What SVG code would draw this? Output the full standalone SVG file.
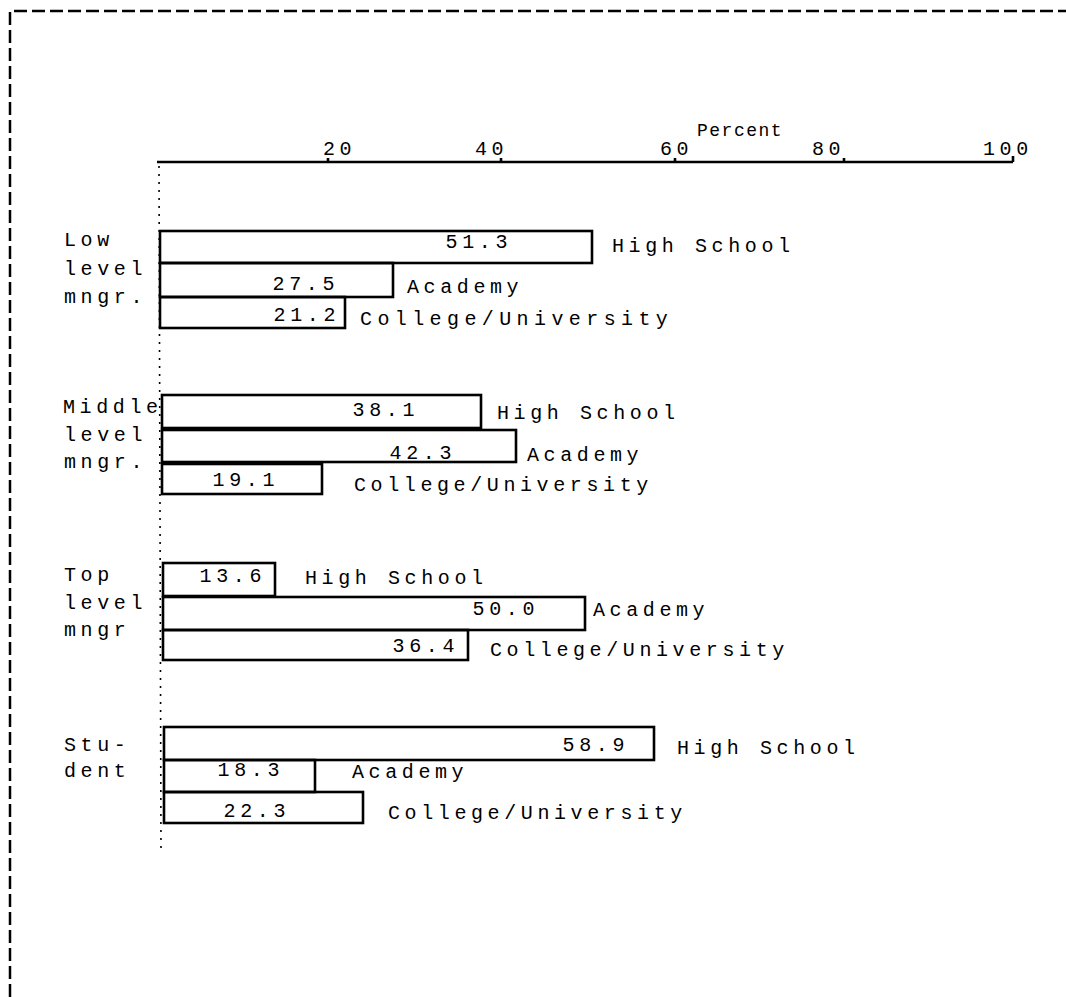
<svg xmlns="http://www.w3.org/2000/svg" width="1066" height="997" viewBox="0 0 1066 997">
<style>
text{font-family:"Liberation Mono","DejaVu Sans Mono",monospace;font-size:20px;fill:#000;letter-spacing:4.6px}
.v{text-anchor:end}
.bar{fill:none;stroke:#000;stroke-width:2.6}
.frame{fill:none;stroke:#000;stroke-width:2.5;stroke-dasharray:13 5}
.axis{fill:none;stroke:#000;stroke-width:2.6}
.dot{fill:none;stroke:#000;stroke-width:1.6;stroke-dasharray:2 6}
</style>
<rect width="1066" height="997" fill="#fff"/>
<g id="frame">
<path class="frame" d="M10 997 V11 H1066"/>
</g>
<g id="axis">
<line class="axis" x1="157" y1="162" x2="1013" y2="162"/>
<path class="axis" d="M328 162v-4M501 162v-4M675 162v-4M844 162v-4M1013 162v-6"/>
<line class="dot" x1="159" y1="166" x2="161" y2="850"/>
<text x="697" y="136" style="font-size:18px;letter-spacing:1.5px">Percent</text>
<text x="323" y="155">20</text>
<text x="475" y="155">40</text>
<text x="660" y="155">60</text>
<text x="812" y="155">80</text>
<text x="983" y="155">100</text>
</g>
<g id="low">
<text x="64" y="246">Low</text>
<text x="64" y="275">level</text>
<text x="64" y="303">mngr.</text>
<rect class="bar" x="160" y="231" width="432" height="32"/>
<text class="v" x="512" y="248">51.3</text>
<text x="612" y="252">High School</text>
<rect class="bar" x="160" y="263" width="233" height="34"/>
<text class="v" x="339" y="290">27.5</text>
<text x="407" y="293">Academy</text>
<rect class="bar" x="160" y="297" width="185" height="31"/>
<text class="v" x="340" y="321">21.2</text>
<text x="360" y="325" style="letter-spacing:5.4px">College/University</text>
</g>
<g id="middle">
<text x="63" y="413">Middle</text>
<text x="64" y="441">level</text>
<text x="64" y="468">mngr.</text>
<rect class="bar" x="162" y="395" width="319" height="33"/>
<text class="v" x="419" y="416">38.1</text>
<text x="497" y="419">High School</text>
<rect class="bar" x="162" y="430" width="354" height="32"/>
<text class="v" x="456" y="459">42.3</text>
<text x="527" y="461">Academy</text>
<rect class="bar" x="162" y="464" width="160" height="30"/>
<text class="v" x="279" y="486">19.1</text>
<text x="354" y="491">College/University</text>
</g>
<g id="top">
<text x="64" y="581">Top</text>
<text x="64" y="609">level</text>
<text x="64" y="636">mngr</text>
<rect class="bar" x="163" y="563" width="112" height="33"/>
<text class="v" x="266" y="582">13.6</text>
<text x="305" y="584">High School</text>
<rect class="bar" x="163" y="597" width="422" height="33"/>
<text class="v" x="539" y="615">50.0</text>
<text x="593" y="616">Academy</text>
<rect class="bar" x="163" y="630" width="305" height="30"/>
<text class="v" x="459" y="652">36.4</text>
<text x="490" y="656">College/University</text>
</g>
<g id="student">
<text x="64" y="751">Stu-</text>
<text x="64" y="777">dent</text>
<rect class="bar" x="164" y="727" width="490" height="33"/>
<text class="v" x="629" y="751">58.9</text>
<text x="677" y="754">High School</text>
<rect class="bar" x="164" y="760" width="151" height="32"/>
<text class="v" x="284" y="776">18.3</text>
<text x="352" y="778">Academy</text>
<rect class="bar" x="164" y="792" width="199" height="31"/>
<text class="v" x="290" y="817">22.3</text>
<text x="388" y="819">College/University</text>
</g>
</svg>
